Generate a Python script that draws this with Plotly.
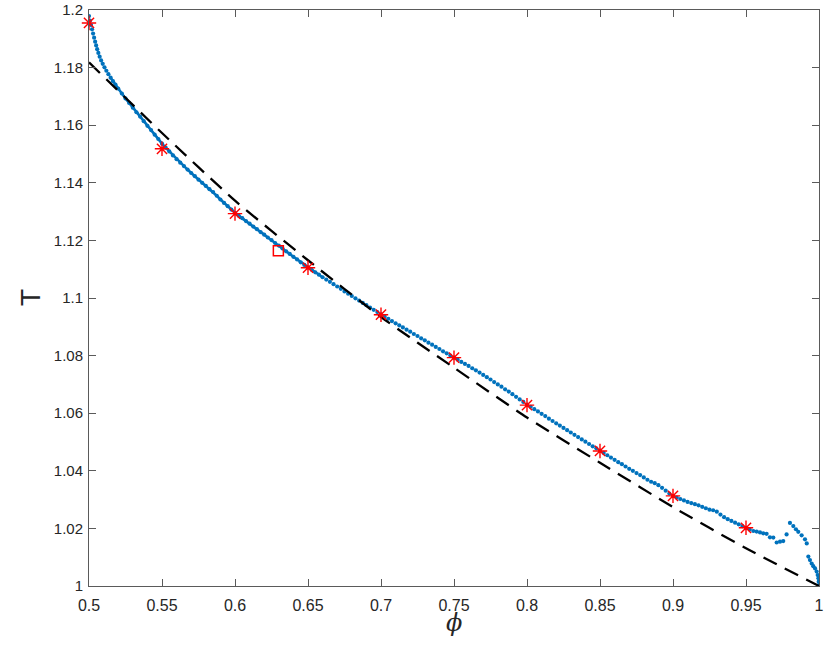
import plotly.graph_objects as go

# ---- data ----
phi_blue = [
    0.5000, 0.5007, 0.5014, 0.5021, 0.5028, 0.5035, 0.5042, 0.5049, 0.5056, 0.5064,
    0.5073, 0.5083, 0.5094, 0.5106, 0.5119, 0.5133, 0.5148, 0.5164, 0.5181,
    0.5200, 0.5225, 0.5250, 0.5275, 0.5300, 0.5325, 0.5350, 0.5375, 0.5400, 0.5425,
    0.5450, 0.5475, 0.5500, 0.5525, 0.5550, 0.5575, 0.5600, 0.5625, 0.5650, 0.5675,
    0.5700, 0.5725, 0.5750, 0.5775, 0.5800, 0.5825, 0.5850, 0.5875, 0.5900, 0.5925,
    0.5950, 0.5975, 0.6000, 0.6025, 0.6050, 0.6075, 0.6100, 0.6125, 0.6150, 0.6175,
    0.6200, 0.6225, 0.6250, 0.6275, 0.6300, 0.6325, 0.6350, 0.6375, 0.6400, 0.6425,
    0.6450, 0.6475, 0.6500, 0.6525, 0.6550, 0.6575, 0.6600, 0.6625, 0.6650, 0.6675,
    0.6700, 0.6725, 0.6750, 0.6775, 0.6800, 0.6825, 0.6850, 0.6875, 0.6900, 0.6925,
    0.6950, 0.6975, 0.7000, 0.7025, 0.7050, 0.7075, 0.7100, 0.7125, 0.7150, 0.7175,
    0.7200, 0.7225, 0.7250, 0.7275, 0.7300, 0.7325, 0.7350, 0.7375, 0.7400, 0.7425,
    0.7450, 0.7475, 0.7500, 0.7525, 0.7550, 0.7575, 0.7600, 0.7625, 0.7650, 0.7675,
    0.7700, 0.7725, 0.7750, 0.7775, 0.7800, 0.7825, 0.7850, 0.7875, 0.7900, 0.7925,
    0.7950, 0.7975, 0.8000, 0.8025, 0.8050, 0.8075, 0.8100, 0.8125, 0.8150, 0.8175,
    0.8200, 0.8225, 0.8250, 0.8275, 0.8300, 0.8325, 0.8350, 0.8375, 0.8400, 0.8425,
    0.8450, 0.8475, 0.8500, 0.8525, 0.8550, 0.8575, 0.8600, 0.8625, 0.8650, 0.8675,
    0.8700, 0.8725, 0.8750, 0.8775, 0.8800, 0.8825, 0.8850, 0.8875, 0.8900, 0.8925,
    0.8950, 0.8975, 0.9000, 0.9025, 0.9050, 0.9075, 0.9100, 0.9125, 0.9150, 0.9175,
    0.9200, 0.9225, 0.9250, 0.9275, 0.9300, 0.9325, 0.9350, 0.9375, 0.9400, 0.9425,
    0.9450, 0.9475, 0.9500, 0.9525, 0.9550,
    0.9573, 0.9596, 0.9618, 0.9641, 0.9664, 0.9687, 0.9710, 0.9733, 0.9755, 0.9778,
    0.9801, 0.9824, 0.9842, 0.9858, 0.9881, 0.9904, 0.9916, 0.9927, 0.9938, 0.9950,
    0.9961, 0.9973, 0.9984, 0.9991, 0.9996, 0.9998, 1.0000,
]
T_blue = [
    1.1979, 1.1963, 1.1948, 1.1933, 1.1918, 1.1904, 1.1890, 1.1877, 1.1864, 1.1851,
    1.1838, 1.1825, 1.1813, 1.1801, 1.1789, 1.1777, 1.1765, 1.1753, 1.1741,
    1.1727, 1.1710, 1.1693, 1.1677, 1.1661, 1.1645, 1.1630, 1.1614, 1.1598, 1.1583,
    1.1567, 1.1552, 1.1536, 1.1522, 1.1509, 1.1495, 1.1482, 1.1470, 1.1458, 1.1446,
    1.1434, 1.1423, 1.1411, 1.1400, 1.1389, 1.1378, 1.1368, 1.1355, 1.1342, 1.1330,
    1.1319, 1.1307, 1.1296, 1.1286, 1.1277, 1.1267, 1.1258, 1.1248, 1.1239, 1.1229,
    1.1220, 1.1210, 1.1201, 1.1191, 1.1182, 1.1172, 1.1162, 1.1153, 1.1143, 1.1134,
    1.1124, 1.1115, 1.1106, 1.1098, 1.1089, 1.1081, 1.1072, 1.1064, 1.1056, 1.1048,
    1.1040, 1.1032, 1.1023, 1.1015, 1.1007, 1.0999, 1.0991, 1.0983, 1.0975, 1.0967,
    1.0959, 1.0951, 1.0943, 1.0935, 1.0928, 1.0920, 1.0912, 1.0905, 1.0898, 1.0890,
    1.0883, 1.0875, 1.0868, 1.0860, 1.0853, 1.0845, 1.0838, 1.0830, 1.0823, 1.0815,
    1.0808, 1.0800, 1.0793, 1.0786, 1.0778, 1.0771, 1.0764, 1.0756, 1.0749, 1.0741,
    1.0733, 1.0725, 1.0717, 1.0708, 1.0700, 1.0692, 1.0683, 1.0675, 1.0666, 1.0657,
    1.0648, 1.0639, 1.0630, 1.0622, 1.0614, 1.0606, 1.0598, 1.0590, 1.0581, 1.0573,
    1.0565, 1.0557, 1.0549, 1.0541, 1.0533, 1.0525, 1.0517, 1.0509, 1.0501, 1.0493,
    1.0485, 1.0478, 1.0470, 1.0462, 1.0454, 1.0446, 1.0438, 1.0430, 1.0423, 1.0415,
    1.0407, 1.0400, 1.0392, 1.0385, 1.0377, 1.0369, 1.0362, 1.0357, 1.0350, 1.0341,
    1.0331, 1.0321, 1.0313, 1.0307, 1.0302, 1.0297, 1.0292, 1.0288, 1.0284, 1.0280,
    1.0275, 1.0270, 1.0265, 1.0263, 1.0258, 1.0248, 1.0239, 1.0232, 1.0226, 1.0220,
    1.0214, 1.0208, 1.0202, 1.0196, 1.0191,
    1.0189, 1.0186, 1.0183, 1.0181, 1.0169, 1.0168, 1.0151, 1.0154, 1.0156, 1.0179,
    1.0219, 1.0208, 1.0197, 1.0188, 1.0176, 1.0162, 1.0148, 1.0102, 1.0090, 1.0078,
    1.0069, 1.0061, 1.0050, 1.0038, 1.0027, 1.0015, 1.0003,
]

phi_dash = [0.50, 0.55, 0.60, 0.65, 0.70, 0.75, 0.80, 0.85, 0.90, 0.95, 1.00]
T_dash = [1.1818, 1.1573, 1.1338, 1.1131, 1.0934, 1.0758, 1.0585, 1.0428, 1.0274, 1.0131, 1.0000]

phi_star = [0.50, 0.55, 0.60, 0.65, 0.70, 0.75, 0.80, 0.85, 0.90, 0.95]
T_star = [1.1955, 1.1518, 1.1293, 1.1105, 1.0942, 1.0793, 1.0628, 1.0469, 1.0313, 1.0202]

phi_square = [0.6297]
T_square = [1.1164]

x_ticks = [0.5, 0.55, 0.6, 0.65, 0.7, 0.75, 0.8, 0.85, 0.9, 0.95, 1.0]
x_ticktext = ["0.5", "0.55", "0.6", "0.65", "0.7", "0.75", "0.8", "0.85", "0.9", "0.95", "1"]
y_ticks = [1.0, 1.02, 1.04, 1.06, 1.08, 1.1, 1.12, 1.14, 1.16, 1.18, 1.2]
y_ticktext = ["1", "1.02", "1.04", "1.06", "1.08", "1.1", "1.12", "1.14", "1.16", "1.18", "1.2"]

x_title = "ϕ"
y_title = "T"

BLUE = "#0072BD"
RED = "#FF0000"
AX = "#5a5a5a"
FONT = "Liberation Sans, Arial, sans-serif"

fig = go.Figure()

# solid-looking dense stretch of the blue curve
seg = [i for i, p in enumerate(phi_blue) if 0.514 <= p <= 0.66]
fig.add_trace(go.Scatter(
    x=[phi_blue[i] for i in seg], y=[T_blue[i] for i in seg],
    mode="lines", line=dict(color=BLUE, width=2.6), hoverinfo="skip", showlegend=False))

fig.add_trace(go.Scatter(
    x=phi_blue, y=T_blue, mode="markers",
    marker=dict(color=BLUE, size=4.2, line=dict(width=0)), showlegend=False))

fig.add_trace(go.Scatter(
    x=phi_dash, y=T_dash, mode="lines",
    line=dict(color="black", width=2.3, dash="15px,9px", shape="spline", smoothing=0.6),
    showlegend=False))

fig.add_trace(go.Scatter(
    x=phi_star, y=T_star, mode="markers", cliponaxis=False,
    marker=dict(symbol="asterisk-open", size=12, color=RED, line=dict(color=RED, width=1.4)),
    showlegend=False))

fig.add_trace(go.Scatter(
    x=phi_square, y=T_square, mode="markers", cliponaxis=False,
    marker=dict(symbol="square-open", size=10, color=RED, line=dict(color=RED, width=1.5)),
    showlegend=False))

fig.update_layout(
    width=824, height=664,
    margin=dict(l=89, r=5, t=10, b=78),
    paper_bgcolor="white", plot_bgcolor="white",
    font=dict(family=FONT, color="#262626", size=16),
    showlegend=False,
    annotations=[
        dict(text="<i>" + x_title + "</i>", xref="paper", yref="paper", x=0.5, y=0,
             xanchor="center", yanchor="middle", yshift=-37, showarrow=False,
             font=dict(size=24, family="DejaVu Serif, serif", color="#262626")),
        dict(text=y_title, xref="paper", yref="paper", x=0, y=0.5, textangle=-90,
             xanchor="center", yanchor="middle", xshift=-59, showarrow=False,
             font=dict(size=28, family=FONT, color="#262626")),
    ],
)
fig.update_xaxes(
    range=[0.5, 1.0], tickvals=x_ticks, ticktext=x_ticktext, automargin=False,
    ticks="inside", ticklen=7, tickwidth=1, tickcolor=AX, ticklabelstandoff=5,
    showline=True, linecolor=AX, linewidth=1, mirror="ticks",
    showgrid=False, zeroline=False,
    tickfont=dict(size=16, family=FONT, color="#262626"),
)
fig.update_yaxes(
    range=[1.0, 1.2], tickvals=y_ticks, ticktext=y_ticktext, automargin=False,
    ticks="inside", ticklen=7, tickwidth=1, tickcolor=AX, ticklabelstandoff=2,
    showline=True, linecolor=AX, linewidth=1, mirror="ticks",
    showgrid=False, zeroline=False,
    tickfont=dict(size=15, family=FONT, color="#262626"),
)

fig.write_html("out.html", config={"displayModeBar": False},
               post_script="document.body.style.margin='0';")
